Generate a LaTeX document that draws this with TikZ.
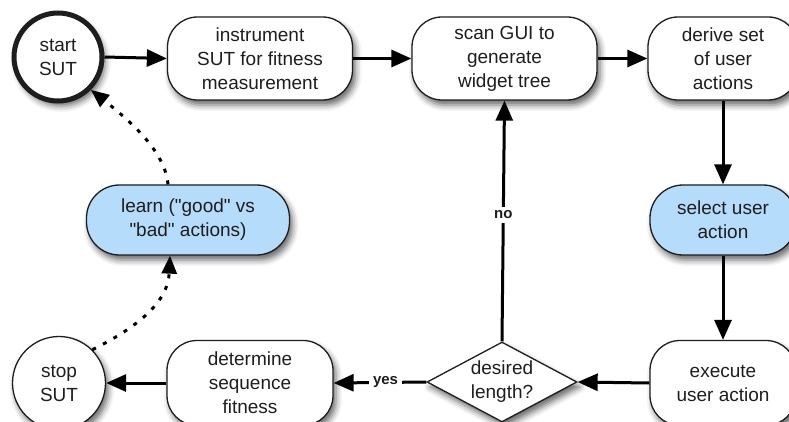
\documentclass[tikz,border=0pt]{standalone}
\usepackage{fontspec}
\setmainfont{Liberation Sans}[Ligatures=TeXOff]
\usetikzlibrary{arrows.meta,shapes.geometric,shadows.blur}
\definecolor{ink}{HTML}{1E1E1E}
\definecolor{actblue}{HTML}{B5DCFA}

\begin{document}
\begin{tikzpicture}[x=1pt,y=1pt,
  every node/.style={font=\fontsize{19}{24}\selectfont, text=ink, align=center},
  softshadow/.style={blur shadow={shadow xshift=3pt, shadow yshift=-5pt,
      shadow blur radius=6pt, shadow opacity=60}},
  proc/.style={draw=ink, line width=1.3pt, fill=white, rounded corners=30pt,
      minimum height=83pt, inner sep=0pt, softshadow},
  act/.style={proc, fill=actblue, minimum height=70pt, rounded corners=33pt},
  term/.style={circle, draw=ink, fill=white, inner sep=0pt, softshadow},
  decide/.style={diamond, draw=ink, line width=1.3pt, fill=white, inner sep=0pt,
      aspect=1.875, minimum width=150pt, minimum height=80pt, softshadow},
  flow/.style={draw=black, line width=3pt, -{Triangle[length=20pt,width=17pt]}},
  hintline/.style={draw=black, line width=3pt, dash pattern=on 4pt off 8pt,
      -{Triangle[length=18pt,width=15pt]}},
  lbl/.style={fill=white, inner sep=4pt, font=\bfseries\fontsize{15}{18}\selectfont}
]
\useasboundingbox (0,0) rectangle (789,421);

% top row
\node[term, line width=5pt, minimum size=88pt] (start) at (58,364) {start\\SUT};
\node[proc, minimum width=185pt] (instr) at (260,362.5) {instrument\\SUT for fitness\\measurement};
\node[proc, minimum width=185pt] (scan) at (504.5,362.5) {scan GUI to\\generate\\widget tree};
\node[proc, minimum width=150pt] (derive) at (723,362.5) {derive set\\of user\\actions};

% middle row
\node[act, minimum width=203pt] (learn) at (188,201) {learn ("good" vs\\"bad" actions)};
\node[act, minimum width=146pt] (select) at (723,201) {select user\\action};

% bottom row
\node[term, line width=1.3pt, minimum size=93pt] (stop) at (59,38) {stop\\SUT};
\node[proc, minimum width=166pt, minimum height=85pt] (fit) at (250,38) {determine\\sequence\\fitness};
\node[decide] (dia) at (502,39) {desired\\length?};
\node[proc, minimum width=146pt, minimum height=85pt] (exec) at (723,38) {execute\\user action};

% main loop
\draw[flow] (start.east) -- (instr.west);
\draw[flow] (instr.east) -- (scan.west);
\draw[flow] (scan.east) -- (derive.west);
\draw[flow] (derive.south) -- (select.north);
\draw[flow] (select.south) -- (exec.north);
\draw[flow] (exec.west) -- (dia.east);
\draw[flow] (dia.north) -- node[lbl, pos=0.525] {no} (scan.south);
\draw[flow] (dia.west) -- node[lbl, pos=0.44] {yes} (fit.east);
\draw[flow] (fit.west) -- (stop.east);

% learning feedback
\draw[hintline] (stop.45) .. controls (140,95) and (168,120) .. ([xshift=-18pt]learn.south);
\draw[hintline] ([xshift=-20pt]learn.north) .. controls (165,270) and (130,300) .. (start.-45);
\end{tikzpicture}
\end{document}
